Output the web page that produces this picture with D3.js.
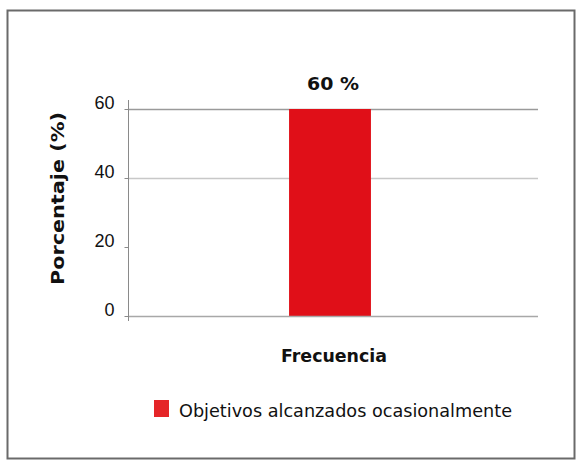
<!DOCTYPE html>
<html><head><meta charset="utf-8">
<script src="https://cdn.jsdelivr.net/npm/d3@7"></script>
<style>body{margin:0;background:#fff}svg{display:block}</style>
</head><body>
<script>
const categories = ["Objetivos alcanzados ocasionalmente"];
const values = [60];
const valueLabels = ["60 %"];
const yTicks = [0, 20, 40, 60];
const gridTicks = [40, 60];
const xTitle = "Frecuencia";
const yTitle = "Porcentaje (%)";

const W = 583, H = 463;
const svg = d3.select("body").append("svg").attr("width", W).attr("height", H);

svg.append("rect").attr("x", 7.5).attr("y", 10.5).attr("width", 567).attr("height", 448)
  .attr("fill", "#fff").attr("stroke", "#6a6a6a").attr("stroke-width", 2);

const y = d3.scaleLinear().domain([0, 60]).range([316, 109]);
const x = d3.scaleBand().domain(categories).range([122, 538]).paddingInner(0).paddingOuter(2.04);

// gridlines
svg.selectAll(".grid").data(gridTicks).enter().append("line")
  .attr("x1", 128).attr("x2", 538)
  .attr("y1", d => Math.round(y(d)) + 0.5).attr("y2", d => Math.round(y(d)) + 0.5)
  .attr("stroke", d => d === 60 ? "#9a9a9a" : "#c8c8c8").attr("stroke-width", 1.5);

// bars
svg.selectAll(".bar").data(values).enter().append("rect")
  .attr("x", (d, i) => x(categories[i]))
  .attr("width", x.bandwidth())
  .attr("y", d => y(d))
  .attr("height", d => y(0) - y(d))
  .attr("fill", "#e00f18");

// baseline
svg.append("line").attr("x1", 128).attr("x2", 538).attr("y1", y(0) + 0.5).attr("y2", y(0) + 0.5)
  .attr("stroke", "#a8a8a8").attr("stroke-width", 1.5);

// y axis
const yAxis = d3.axisLeft(y).tickValues(yTicks).tickSize(4).tickPadding(10).tickFormat(d3.format("d"));
const gy = svg.append("g").attr("transform", "translate(128.5,0)").call(yAxis);
gy.select(".domain").remove();
gy.append("line").attr("x1", 0).attr("x2", 0).attr("y1", 100).attr("y2", 321).attr("stroke", "#8a8a8a");
gy.selectAll(".tick line").attr("stroke", "#8a8a8a");
gy.selectAll(".tick text").attr("font-family", "Liberation Sans, Arial, sans-serif")
  .attr("font-size", 18).attr("fill", "#111").attr("dy", "-0.05em");

// value labels
svg.selectAll(".vl").data(values).enter().append("text")
  .attr("x", (d, i) => x(categories[i]) + x.bandwidth() / 2 + 3)
  .attr("y", d => y(d) - 19)
  .attr("text-anchor", "middle").attr("font-family", "DejaVu Sans, sans-serif")
  .attr("font-weight", "bold").attr("font-size", 17).attr("fill", "#111")
  .attr("textLength", 52).attr("lengthAdjust", "spacingAndGlyphs")
  .text((d, i) => valueLabels[i]);

// x title
svg.append("text").attr("x", 334).attr("y", 362).attr("text-anchor", "middle")
  .attr("font-family", "DejaVu Sans, sans-serif").attr("font-weight", "bold").attr("font-size", 18)
  .attr("fill", "#111").attr("textLength", 106).attr("lengthAdjust", "spacingAndGlyphs").text(xTitle);

// y title
svg.append("text").attr("transform", "translate(64,198.5) rotate(-90)").attr("text-anchor", "middle")
  .attr("font-family", "DejaVu Sans, sans-serif").attr("font-weight", "bold").attr("font-size", 18)
  .attr("fill", "#111").attr("textLength", 173).attr("lengthAdjust", "spacingAndGlyphs").text(yTitle);

// legend
const lg = svg.append("g");
lg.append("rect").attr("x", 154).attr("y", 400).attr("width", 15).attr("height", 17).attr("fill", "#e52528");
lg.append("text").attr("x", 179).attr("y", 417).attr("font-family", "DejaVu Sans, sans-serif")
  .attr("font-size", 18).attr("fill", "#111").attr("textLength", 333).attr("lengthAdjust", "spacingAndGlyphs")
  .text(categories[0]);
</script>
</body></html>
